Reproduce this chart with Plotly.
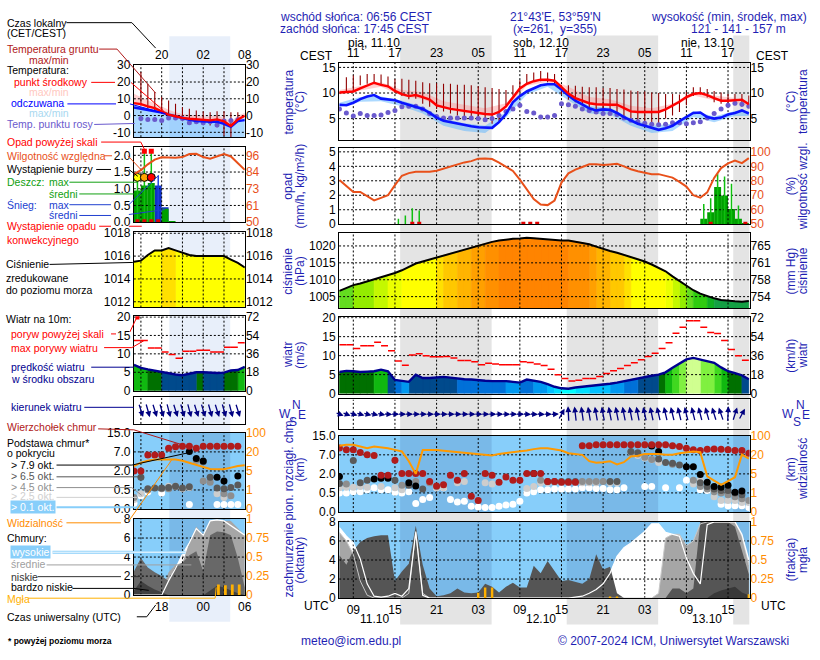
import math
import numpy as np
import plotly.graph_objects as go

W, H = 820, 660
FONT = "Liberation Sans, Arial, Helvetica, sans-serif"
NAVY = "#1f1fb4"
LEG = 10.5   # legend text size

# ======================= DATA : main meteogram =======================
# hours UTC counted from 11.10 00:00
HOURS = list(range(7, 67))
T_MID = [10.1, 10.2, 10.3, 10.9, 11.5, 12.0, 11.6, 11.3, 10.4, 9.8,
         9.4, 9.6, 9.2, 8.7, 7.6, 7.2, 6.9, 6.7, 6.5, 6.2,
         6.1, 5.9, 5.8, 6.3, 7.4, 9.2, 10.9, 11.8, 12.3, 12.6,
         12.6, 12.4, 11.1, 9.9, 9.0, 8.5, 8.0, 7.8, 7.7, 7.7,
         7.7, 7.0, 6.4, 6.3, 6.3, 6.3, 6.3, 6.8, 7.5, 8.3,
         9.2, 9.8, 10.0, 9.6, 9.0, 8.5, 8.5, 8.6, 8.7, 7.8]
T_FEEL = [7.7, 7.6, 8.1, 8.8, 9.3, 9.6, 8.9, 8.8, 8.6, 8.1,
          7.7, 7.3, 6.9, 6.1, 5.2, 4.6, 4.3, 4.0, 3.7, 3.5,
          3.3, 3.2, 3.2, 4.3, 5.9, 8.2, 9.4, 10.3, 10.9, 11.5,
          11.7, 11.7, 10.7, 9.5, 8.5, 7.8, 7.0, 6.6, 6.8, 6.7,
          6.1, 5.3, 4.6, 4.0, 3.6, 3.2, 2.8, 3.1, 3.6, 4.5,
          5.3, 6.1, 6.2, 5.3, 5.0, 5.2, 5.8, 6.1, 6.6, 6.0]
T_DEW = [6.9, 6.1, 5.5, 6.0, 5.6, 5.6, 5.7, 6.2, 6.6, 7.3,
         7.4, 7.4, 6.9, 6.0, 5.4, 5.1, 5.1, 5.1, 5.1, 5.1,
         5.0, 4.8, 5.0, 5.6, 6.4, 6.9, 7.6, 6.4, 6.1, 5.3,
         5.3, 5.6, 7.9, 7.7, 7.4, 6.9, 6.6, 6.3, 6.0, 6.0,
         5.8, 5.1, 4.7, 4.4, 4.1, 3.9, 3.8, 3.9, 4.2, 4.2,
         4.0, 4.2, 4.4, 5.1, 6.0, 6.9, 7.6, 8.0, 7.8, 7.4]
GT_HOURS = list(range(8, 67))
GT_MAX = [13.1, 13.4, 13.4, 13.7, 13.7, 13.6, 13.2, 12.7, 12.8, 12.6,
          12.4, 12.1, 11.9, 11.9, 11.8, 11.8, 11.6, 11.6, 11.5, 11.3,
          11.1, 11.0, 10.8, 10.6, 11.5, 12.5, 13.7, 14.0, 14.3, 14.0,
          13.7, 11.5, 11.5, 11.4, 11.2, 11.1, 11.1, 11.0, 11.0, 10.8,
          10.7, 10.5, 10.4, 10.3, 10.1, 10.0, 9.8, 9.8, 9.7, 10.2,
          11.1, 11.1, 10.8, 10.4, 10.1, 9.8, 9.8, 9.8, 9.5]
GT_MIN = [10.3, 10.3, 11.5, 11.8, 11.8, 11.5, 11.1, 10.0, 9.4, 8.8,
          8.9, 7.9, 7.3, 6.9, 6.4, 6.0, 5.6, 5.3, 5.0, 4.7,
          4.4, 4.0, 4.6, 7.6, 9.5, 11.0, 11.8, 12.3, 12.3, 12.1,
          11.8, 9.7, 8.7, 8.2, 7.6, 6.9, 6.6, 6.3, 6.0, 5.6,
          5.3, 5.0, 4.7, 4.4, 4.0, 3.7, 5.0, 5.6, 6.3, 7.6,
          9.4, 9.7, 9.1, 8.2, 7.9, 7.7, 7.6, 7.3, 7.0]
BAND_HOURS = [7, 10, 13, 16, 19, 22, 25, 28, 31, 34, 37, 40, 43, 46, 49, 52, 55, 58, 61, 64, 66]
T_MID_HI = [10.6, 11.3, 12.1, 10.6, 10.2, 8.4, 7.7, 7.0, 8.0, 12.2, 12.9, 11.2, 9.2, 8.8, 7.5, 7.0, 7.9, 10.3, 9.5, 9.0, 8.2]
T_MID_LO = [9.7, 10.5, 11.2, 9.4, 8.8, 7.0, 6.2, 5.6, 7.0, 11.4, 12.2, 9.5, 7.7, 7.4, 6.1, 6.0, 7.2, 9.5, 8.6, 8.2, 7.4]
T_FEEL_HI = [8.1, 9.2, 9.3, 8.5, 7.3, 5.0, 4.1, 3.6, 6.3, 10.7, 12.1, 9.9, 7.4, 7.1, 5.0, 3.6, 4.0, 6.5, 5.4, 6.5, 6.4]
T_FEEL_LO = [7.2, 8.3, 8.4, 7.4, 6.0, 3.6, 2.6, 2.2, 5.2, 9.7, 11.2, 8.6, 6.0, 5.8, 3.6, 2.2, 2.6, 5.3, 4.3, 5.5, 5.5]

RH = [80.6, 76.5, 72.3, 72.3, 69.5, 66.5, 68.2, 70.0, 77.0, 83.5,
      85.3, 86.2, 86.2, 86.2, 87.0, 88.4, 90.3, 91.6, 92.7, 93.6,
      95.3, 95.4, 95.0, 92.6, 89.6, 86.8, 80.8, 73.8, 67.4, 63.6,
      63.2, 66.4, 78.8, 85.2, 87.7, 89.5, 91.4, 91.4, 91.0, 91.3,
      91.7, 90.0, 88.0, 86.6, 85.5, 84.6, 84.6, 83.6, 82.2, 79.3,
      76.0, 70.0, 68.3, 72.0, 82.0, 88.8, 92.0, 94.0, 92.2, 95.7]
PREC_MEAN_HOURS = [59.5, 60.5, 61.5, 62.5, 63.5, 64.5, 65.5]
PREC_MEAN = [0.38, 0.83, 2.57, 1.99, 1.05, 0.38, 0.05]
PREC_MAX_HOURS = [15.5, 16.5, 17.5, 18.5, 59.5, 60.5, 61.5, 62.5, 63.5, 64.5, 65.5]
PREC_MAX = [0.38, 0.6, 1.1, 0.95, 1.4, 1.8, 3.5, 3.3, 2.8, 1.3, 0.15]
PREC_OCC_HOURS = [17.5, 18.5, 33.5, 34.5, 35.5, 60.5, 65.5]

PRESSURE = [1006.7, 1007.5, 1008.4, 1008.9, 1009.5, 1010.0, 1010.7, 1011.3, 1012.0, 1012.8,
            1013.8, 1014.8, 1015.4, 1016.0, 1016.6, 1017.2, 1017.8, 1018.3, 1018.9, 1019.5,
            1020.2, 1020.7, 1021.2, 1021.6, 1021.9, 1022.1, 1022.2, 1022.4, 1022.3, 1022.1,
            1021.8, 1021.6, 1021.6, 1021.6, 1021.3, 1021.0, 1020.5, 1019.8, 1019.1, 1018.5,
            1018.0, 1017.4, 1016.8, 1016.2, 1015.4, 1014.5, 1013.6, 1012.5, 1011.0, 1009.6,
            1008.2, 1006.9, 1005.9, 1005.1, 1004.5, 1004.0, 1003.7, 1003.6, 1003.5, 1003.7]
WIND = [5.7, 6.0, 5.9, 5.7, 5.8, 5.9, 6.3, 5.9, 3.6, 3.3,
        3.1, 5.0, 4.1, 4.1, 4.2, 4.4, 4.2, 3.9, 3.8, 3.7,
        3.5, 3.4, 3.3, 3.3, 3.3, 3.1, 2.9, 3.7, 3.4, 3.1,
        2.5, 1.8, 1.4, 1.3, 1.6, 1.8, 2.0, 2.1, 2.3, 2.6,
        2.9, 3.3, 3.7, 4.0, 4.3, 4.7, 5.0, 5.6, 6.8, 8.0,
        9.0, 9.4, 8.9, 8.4, 8.1, 6.9, 5.9, 5.4, 4.8, 3.8]
GUST_HOURS = list(range(7, 66))
GUST = [12.9, 12.9, 11.9, 12.6, 12.6, 13.5, 12.6, 11.3, 8.6, 7.5,
        10.2, 10.5, 10.0, 9.7, 9.7, 9.8, 9.4, 8.7, 8.7, 8.4,
        7.6, 8.0, 7.8, 7.6, 7.6, 7.6, 8.4, 8.2, 7.8, 7.4,
        6.4, 5.0, 4.0, 3.3, 3.5, 4.0, 4.0, 4.5, 5.3, 6.0,
        6.6, 7.4, 8.1, 8.9, 9.8, 10.6, 11.9, 13.4, 15.9, 17.5,
        19.2, 19.2, 17.5, 16.1, 15.8, 14.0, 11.6, 10.0, 8.8]
WIND_DIR = [282, 282, 280, 279, 278, 277, 276,
            272, 271, 270, 270, 270, 270, 270, 270, 270, 270, 270, 270, 270,
            270, 270, 270, 270, 271, 271, 271, 272, 272, 272, 270, 268,
            225,
            175, 168, 165, 163, 162, 161, 160, 160, 160, 160, 160, 158, 158,
            157, 157, 156, 156, 155, 155, 154, 152, 150, 148,
            185, 210, 225, 235]

CB_TOP = [9.9, 9.1, 9.1, 8.0, 7.0, 6.8, 1.9, 1.9, 5.6, 2.1,
          2.1, 2.1, 2.1, 1.4, 1.05, 1.15, 1.9, 1.5, 2.1, 0.41,
          0.3, 2.1, 1.9, 1.35, 1.75, 1.5, 1.5, 2.1, 2.1, 2.1,
          1.4, 1.4, 1.35, 1.35, 1.35, 10.8, 10.8, 11.2, 11.2, 11.2,
          11.2, 11.2, 11.2, 11.2, 11.2, 11.2, 11.2, 11.2, 10.8, 10.5,
          9.8, 9.1, 8.8, 9.4, 9.5, 9.4, 9.1, 8.8, 8.8, 7.7]
CB_BLACK_H = [7, 12, 13, 14, 17, 18, 35, 52, 53, 57, 58, 59, 60, 61, 62, 63, 64, 65]
CB_BLACK = [1.8, 1.6, 1.65, 1.65, 1.3, 1.05, 2.1, 10.7, 8.4, 3.9, 3.9, 1.95, 1.35, 1.0, 0.95, 1.1, 0.55, 0.65]
CB_DKGREY_H = [7, 9, 10, 11, 15, 17, 19, 37, 38, 39, 40, 41, 46, 47, 49, 50, 53, 54, 55, 56, 59, 60, 61, 62, 63, 64, 65]
CB_DKGREY = [1.25, 5.5, 1.3, 1.5, 1.5, 1.1, 0.8, 1.4, 1.4, 1.4, 1.4, 1.4, 1.4, 1.4, 8.4, 7.9, 5.9, 5.0, 4.8, 4.3, 1.3, 1.0, 0.8, 0.7, 0.7, 0.5, 0.45]
CB_GREY_H = [8, 16, 18, 20, 21, 36, 42, 43, 44, 45, 49, 50, 51, 52, 55, 58, 59, 60, 61, 62, 63, 64, 65, 66]
CB_GREY = [1.2, 1.1, 1.4, 1.3, 1.0, 1.5, 1.4, 1.4, 1.4, 1.4, 8.0, 7.4, 6.4, 5.8, 4.5, 1.5, 1.0, 0.8, 0.6, 0.5, 0.45, 0.4, 0.35, 0.3]
CB_LTGREY_H = [7, 8, 9, 10, 11, 13, 15, 16, 21, 22, 24, 25, 28, 29, 34, 35, 36, 37, 38, 39,
               40, 41, 42, 43, 44, 46, 47, 50, 51, 52, 53, 58, 59, 61, 62, 63, 64, 65, 66]
CB_LTGREY = [0.9, 0.95, 0.95, 1.0, 0.95, 1.0, 0.9, 0.75, 0.9, 0.9, 1.3, 1.4, 1.3, 1.2, 0.85, 1.0, 1.3, 1.3, 1.35, 1.35,
             1.35, 1.35, 1.3, 1.3, 1.3, 1.3, 1.3, 6.8, 6.2, 5.7, 5.0, 1.2, 1.5, 0.4, 0.3, 0.3, 0.3, 0.25, 0.25]
CB_WHITE = [0.5, 0.5, 0.6, 0.6, 0.75, 0.9, 0.75, 0.75, 0.55, 0.5,
            0.6, 0.22, 0.33, 0.38, 0.9, 0.9, 0.33, 0.26, 0.28, 0.15,
            0.13, 0.12, 0.12, 0.15, 0.18, 0.2, 0.28, 0.5, 0.6, 0.75,
            0.75, 0.8, 0.8, 0.8, 0.8, 0.9, 0.9, 0.85, 0.85, 0.75,
            0.75, 0.9, None, None, 1.0, 1.0, None, 0.9, None, 0.9,
            1.5, None, 0.75, 0.7, 0.6, 0.2, 0.16, 0.16, 0.16, 0.12]
VIS = [58, 62, 62, 55, 48, 55, 52, 48, 41, 34,
       15, 5, 40, 41, 40, 37, 34, 30, 27, 24,
       21.5, 20, 19.5, 24, 27, 30, 34, 38, 44, 48,
       48, 44, 38, 27, 24, 20, 15, 13.8, 14.2, 15,
       12.5, 14.2, 18.7, 19.3, 24, 24, 24, 20, 20, 27,
       30, 34, 31, 4.5, 3.6, 2.7, 3.5, 4.3, 21, 17]

CL_HIGH = [7.4, 6.5, 5.8, 4.1, 1.5, 0.2, 0.1, 0.2, 0.5, 0.2,
           1.0, 6.9, 0.3, 0, 0, 0, 0, 0, 0, 0,
           0, 0, 0, 0, 0, 0, 0, 0, 0, 0,
           0, 0, 0, 0, 0.1, 0.2, 0.5, 0.9, 1.5, 2.6,
           4.4, 5.3, 5.8, 6.4, 7.0, 7.8, 7.8, 6.9, 6.7, 6.5,
           4.2, 2.6, 1.5, 7.7, 8.0, 8.0, 8.0, 8.0, 6.7, 4.0]
CL_MED = [6.9, 6.0, 4.6, 1.8, 0.3, 0, 0, 0, 0, 0,
          0.5, 7.0, 0.5, 0, 0, 0, 0, 0, 0, 0,
          0, 0, 0, 0, 0, 0, 0, 0, 0, 0,
          0, 0, 0, 0, 0, 0, 0, 0, 0, 0,
          0, 0, 0, 0, 0, 0, 0.5, 6.3, 6.7, 6.7,
          5.5, 6.0, 7.8, 8.0, 8.0, 8.0, 8.0, 8.0, 6.5, 3.5]
CL_LOW = [4.5, 3.5, 5.0, 5.9, 6.3, 6.5, 6.6, 6.6, 1.8, 2.8,
          3.6, 7.6, 3.5, 1.0, 0.2, 0.3, 0.5, 1.0, 0.6, 0.5,
          0.6, 1.5, 1.2, 0.6, 1.2, 1.6, 1.1, 1.1, 3.4, 2.6,
          3.9, 2.8, 1.8, 1.9, 1.7, 1.5, 2.0, 4.6, 3.0, 3.3,
          0.5, 0, 0, 0, 0, 0, 0, 0, 1.0, 1.0,
          0.5, 1.0, 8.0, 8.0, 8.0, 8.0, 8.0, 7.5, 5.0, 2.5]
CL_VLOW = [0, 0, 0, 0, 0, 0, 0, 0, 0, 0,
           0, 0, 0, 0, 0, 0, 0, 0, 0, 0,
           0, 0, 0, 0, 0, 0, 0, 0, 0, 0,
           0, 0, 0, 0, 0, 0, 0, 0, 0, 0,
           0, 0, 0, 0, 0, 0, 0, 0, 0, 0,
           0, 0, 0, 0, 0.5, 0.8, 1.0, 1.2, 0.6, 0.3]
FOG_HOURS = [27, 28, 29, 46, 47, 66]
FOG = [0.07, 0.14, 0.14, 0.02, 0.02, 0.05]

NIGHTS = [(15.75, 28.93), (39.75, 52.93), (63.75, 66.1)]
MAIN_GRID_H = [9, 15, 21, 27, 33, 39, 45, 51, 57, 63]
CEST_LABELS = ['11', '17', '23', '05', '11', '17', '23', '05', '11', '17']
UTC_LABELS = ['09', '15', '21', '03', '09', '15', '21', '03', '09', '15']
DAY_POS = [12, 36, 60]
DAY_LABELS = ['pią, 11.10', 'sob, 12.10', 'nie, 13.10']
DATE_LABELS = ['11.10', '12.10', '13.10']

# ======================= DATA : legend example (mini) =======================
MH = list(range(14, 31))
MINI_T_MID = [7.4, 6.8, 5.5, 4.4, 2.5, 0.6, -0.4, -1.4, -1.9, -2.3, -2.7, -2.9, -2.3, -3.5, -6.2, -2.3, -0.2]
MINI_T_FEEL = [4.8, 4.1, 3.5, 2.9, 1.8, 0.6, -0.5, -1.7, -2.5, -3.3, -3.6, -3.7, -3.7, -5.0, -6.8, -3.3, -2.7]
MINI_T_MID_HI = [13.0, 11.0, 9.0, 7.5, 5.5, 3.5, 2.0, 1.0, 0.5, 0.0, -0.5, -0.5, 0.0, -1.5, -3.5, 0.0, 1.5]
MINI_T_MID_LO = [6.5, 6.0, 4.8, 3.6, 1.6, -0.2, -1.2, -2.2, -2.7, -3.1, -3.5, -3.7, -3.1, -4.5, -7.0, -3.1, -1.0]
MINI_T_FEEL_HI = [6.0, 5.3, 4.7, 4.1, 3.0, 1.8, 0.7, -0.5, -1.3, -2.1, -2.4, -2.5, -2.5, -3.8, -5.6, -2.1, -1.5]
MINI_T_FEEL_LO = [-14, -14, -14, -14, -14, -14, -14, -14, -14, -14, -14, -14, -14, -14, -14, -14, -14]
MINI_DEW_H = list(range(15, 30))
MINI_DEW = [-1.7, -2.3, -2.3, -2.9, -1.4, -1.4, -1.7, -4.3, -3.7, -4.3, -3.7, -5.6, -3.3, -2.9, -2.5]
MINI_GT_H = list(range(15, 30))
MINI_GT_MAX = [26, 19, 14, 11, 9, 7, 5, 4, 3, 2.5, 2, 2.5, 2.5, 2, 2]
MINI_GT_MIN = [6, 4.4, 2.5, 1, 0, -1, -2, -3, -4, -5, -6, -7, -12, -13, -2]
MINI_RH = [83, 85.8, 89.8, 93.0, 94.7, 94.4, 94.4, 94.8, 96.9, 97.0, 94.8, 93.6, 95.0, 96.8, 95.2, 90.6, 86]
MINI_RAIN_H = [14.5, 15.5, 16.5, 18.5, 19.5]
MINI_RAIN = [0.95, 1.1, 1.17, 0.4, 0.03]
MINI_SNOW_H = [17.5, 18.5]
MINI_SNOW = [1.1, 0.45]
MINI_RAIN_MAX_H = [14.5, 15.5, 16.5]
MINI_RAIN_MAX = [1.34, 2.1, 2.1]
MINI_SNOW_MAX_H = [17.5]
MINI_SNOW_MAX = [1.4]
MINI_STORM_H = [14.5, 15.5, 16.5]
MINI_STORM_COL = ['#ffff00', '#ffa500', '#ff0000']
MINI_OVER_H = [15.5, 16.5]
MINI_OCC_H = [14.5, 15.5, 16.5, 17.5]
MINI_P = [1015.5, 1015.6, 1016.1, 1016.5, 1016.5, 1016.7, 1016.5, 1016.3, 1016.1, 1016.0,
          1016.0, 1016.0, 1016.0, 1016.0, 1015.7, 1015.4, 1015.0]
MINI_W = [7.0, 6.2, 5.8, 5.4, 5.1, 4.6, 4.4, 4.2, 4.5, 5.0, 5.0, 4.8, 4.8, 4.9, 5.5, 5.6, 6.5]
MINI_GUST_H = list(range(14, 30))
MINI_GUST = [13.6, 13.6, 11.6, 11.6, 10.5, 9.8, 8.8, 10.7, 10.7, 11.0, 11.0, 10.5, 10.5, 11.8, 11.8, 13.0]
MINI_GUST_OVER_H = [14.5]
MINI_WD_H = list(range(15, 30))
MINI_WD = [330, 332, 330, 333, 335, 330, 332, 334, 330, 331, 333, 330, 332, 335, 330]
MINI_CB_TOP_H = [14, 15, 16, 17, 18, 19, 20, 21, 22, 23, 24, 25, 26, 27, 28, 29]
MINI_CB_TOP = [2.0, 2.0, 6.2, 6.2, 6.2, 8.5, 9.2, 9.4, 9.4, 8.5, 9.4, 9.4, 9.4, 9.4, 9.4, 9.4]
MINI_CB_BLACK_H = [22, 23, 24, 26, 27, 29]
MINI_CB_BLACK = [7.2, 5.3, 4.6, 1.5, 1.2, 1.6]
MINI_CB_DKGREY_H = [15, 16, 17, 18, 19, 20, 21, 22, 24, 25, 26, 27, 28, 29]
MINI_CB_DKGREY = [1.5, 0.6, 0.65, 0.65, 0.7, 0.8, 0.65, 0.75, 4.4, 1.5, 0.65, 0.6, 0.7, 0.9]
MINI_CB_GREY_H = [14, 16, 18, 19, 20, 23, 24, 25, 27, 28]
MINI_CB_GREY = [0.3, 0.5, 0.6, 0.6, 0.75, 4.8, 1.2, 1.1, 0.4, 0.35]
MINI_CB_LTGREY_H = [14, 15, 19, 20, 21, 22, 26, 27]
MINI_CB_LTGREY = [0.25, 0.4, 0.8, 0.8, 0.6, 0.7, 0.4, 0.3]
MINI_CB_WHITE_H = [14, 15, 16, 18, 22, 26, 27, 28, 29]
MINI_CB_WHITE = [0.15, 0.35, 0.45, 0.42, 0.12, 0.12, 0.12, 0.12, 0.12]
MINI_VIS = [8.9, 11.5, 13, 14, 14, 14, 14, 13, 11.5, 9.5, 8, 6.5, 6.3, 6.3, 7.6, 8.9, 9.5]
MINI_CL_HIGH = [0, 0, 0, 0, 0, 1.5, 2.8, 4.3, 5.5, 7.0, 6.3, 7.8, 7.9, 7.8, 7.3, 6.8, 6.3]
MINI_CL_MED = [0, 0, 0, 0, 0.5, 2.4, 3.2, 3.4, 5.5, 7.2, 6.3, 7.8, 7.9, 7.8, 7.8, 7.0, 6.3]
MINI_CL_LOW = [2.5, 3.9, 2.9, 2.4, 2.0, 1.5, 3.0, 3.4, 4.2, 4.6, 2.5, 6.3, 6.7, 6.6, 6.3, 3.9, 0.8]
MINI_CL_VLOW = [0.5, 1.5, 1.0, 0.6, 0.3, 0, 0, 0, 0, 0, 0, 0.5, 1.0, 0.8, 0.5, 0.2, 0]
MINI_FOG_H = [26.2, 27.2, 28.2, 29.2]
MINI_FOG = [0.14, 0.13, 0.14, 0.14]
MINI_NIGHT = (19.1, 27.9)
MINI_GRID_H = [15, 18, 21, 24, 27]
MINI_TOP_TV = [18, 24, 30]
MINI_TOP_TT = ['20', '02', '08']
MINI_BOT_TT = ['18', '00', '06']

for arr in (T_MID, T_FEEL, T_DEW, RH, PRESSURE, WIND, WIND_DIR, CB_TOP, CB_WHITE, VIS,
            CL_HIGH, CL_MED, CL_LOW, CL_VLOW):
    assert len(arr) == len(HOURS), len(arr)
for arr in (MINI_T_MID, MINI_T_FEEL, MINI_RH, MINI_P, MINI_W, MINI_VIS, MINI_CL_HIGH,
            MINI_CL_MED, MINI_CL_LOW, MINI_CL_VLOW):
    assert len(arr) == len(MH), len(arr)

# ======================= helpers =======================
fig = go.Figure()
LAY = {}
MX = [6.95, 66.1]
NX = [13.98, 30.02]
MAIN_X = (342, 756)
MINI_X = (135, 247)


def xid(i): return 'x' if i == 1 else f'x{i}'
def yid(i): return 'y' if i == 1 else f'y{i}'
def xkey(i): return 'xaxis' if i == 1 else f'xaxis{i}'
def ykey(i): return 'yaxis' if i == 1 else f'yaxis{i}'


def panel(i, xpx, ypx, xr, yr, ytv=None, ytt=None, xtv=None, xtt=None, xside='bottom'):
    base = dict(showline=True, linecolor='black', linewidth=1, mirror=True, showgrid=False,
                zeroline=False, ticks='', fixedrange=True,
                tickfont=dict(family=FONT, size=12, color='black'))
    xa = dict(base, domain=[xpx[0] / W, xpx[1] / W], range=xr, anchor=yid(i))
    if xtv is not None:
        xa.update(tickmode='array', tickvals=xtv, ticktext=xtt, side=xside, showticklabels=True)
    else:
        xa.update(showticklabels=False)
    ya = dict(base, domain=[1 - ypx[1] / H, 1 - ypx[0] / H], range=yr, anchor=xid(i))
    if ytv is not None:
        ya.update(tickmode='array', tickvals=ytv, ticktext=ytt)
    else:
        ya.update(showticklabels=False)
    LAY[xkey(i)] = xa
    LAY[ykey(i)] = ya


def right_axis(i, j, yr, tv, tt, color):
    LAY[ykey(j)] = dict(overlaying=yid(i), side='right', anchor=xid(i), range=yr,
                        tickmode='array', tickvals=tv, ticktext=tt, showline=False,
                        showgrid=False, zeroline=False, ticks='', fixedrange=True,
                        tickfont=dict(family=FONT, size=12, color=color))
    fig.add_trace(go.Scatter(x=[None], y=[None], xaxis=xid(i), yaxis=yid(j),
                             hoverinfo='skip', showlegend=False))


def sc(i, x, y, j=None, **kw):
    fig.add_trace(go.Scatter(x=x, y=y, xaxis=xid(i), yaxis=yid(j if j else i),
                             hoverinfo='skip', showlegend=False, **kw))


def bar(i, x, y, j=None, **kw):
    fig.add_trace(go.Bar(x=x, y=y, xaxis=xid(i), yaxis=yid(j if j else i),
                         hoverinfo='skip', showlegend=False, **kw))


def grid(i, xr, yr, vx, hy):
    gx, gy = [], []
    for v in vx:
        gx += [v, v, None]
        gy += [yr[0], yr[1], None]
    for v in hy:
        gx += [xr[0], xr[1], None]
        gy += [v, v, None]
    sc(i, gx, gy, mode='lines', line=dict(color='black', width=1, dash='2px,2px'))


def band(i, xs, hi, lo, color):
    sc(i, list(xs) + list(xs)[::-1], list(hi) + list(lo)[::-1], mode='lines',
       fill='toself', fillcolor=color, line=dict(width=0))


def vsegs(i, xs, y0s, y1s, color, width=1, j=None):
    gx, gy = [], []
    for x, a, b in zip(xs, y0s, y1s):
        gx += [x, x, None]
        gy += [a, b, None]
    sc(i, gx, gy, j=j, mode='lines', line=dict(color=color, width=width))


def hsegs(i, xs, ys, color, width=1.5):
    gx, gy = [], []
    for x, y in zip(xs, ys):
        gx += [x, x + 1, None]
        gy += [y, y, None]
    sc(i, gx, gy, mode='lines', line=dict(color=color, width=width))


def strips(i, xs, ys, base, colfun):
    groups = {}
    for k in range(len(xs) - 1):
        c = colfun((ys[k] + ys[k + 1]) / 2)
        gx, gy = groups.setdefault(c, ([], []))
        gx += [xs[k], xs[k], xs[k + 1], xs[k + 1], xs[k], None]
        gy += [base, ys[k], ys[k + 1], base, base, None]
    for c, (gx, gy) in groups.items():
        sc(i, gx, gy, mode='lines', fill='toself', fillcolor=c, line=dict(color=c, width=0.6))


P_LEVELS = [1004.5, 1005.5, 1007, 1008.5, 1010, 1011.5, 1013, 1016.6, 1017.5, 1018.5, 1019.5, 1020.5, 1021.5]
P_COLORS = ['#14a044', '#10b020', '#30cc10', '#64dc20', '#94ec00', '#c4f800', '#ecff00', '#ffff00',
            '#ffe000', '#ffc800', '#ffb400', '#ffa000', '#ff9000', '#ff8400']
W_LEVELS = [1.5, 2.0, 2.7, 3.3, 4.0, 5.0, 6.0, 7.0, 8.0, 9.0]
W_COLORS = ['#00ffff', '#00e0ff', '#00c0ff', '#0098f0', '#0070d8', '#004a8c', '#007000',
            '#10b810', '#40d820', '#80f040', '#d0ff90']


def pcol(p):
    for lv, c in zip(P_LEVELS, P_COLORS):
        if p < lv:
            return c
    return P_COLORS[-1]


def wcol(v):
    for lv, c in zip(W_LEVELS, W_COLORS):
        if v < lv:
            return c
    return W_COLORS[-1]


CB_KM = [0, 0.5, 2, 7, 15]
VIS_KM = [0, 1, 5, 20, 100]
LEVEL_POS = [0, 1, 2, 3, 4]


def cbpos(v): return float(np.interp(v, CB_KM, LEVEL_POS))
def vispos(v): return float(np.interp(v, VIS_KM, LEVEL_POS))


def dots(i, hs, vs, color, size=7):
    pts = [(h, cbpos(v)) for h, v in zip(hs, vs) if v is not None]
    sc(i, [p[0] for p in pts], [p[1] for p in pts], mode='markers',
       marker=dict(color=color, size=size, line=dict(width=0)))


def arrows(i, hs, dirs, mid, pxh, color):
    ax_half, ay_half = 4.35, 8.0
    for h, d in zip(hs, dirs):
        phi = math.radians(d + 180)
        dx = 2 * ax_half * math.sin(phi)
        dy = -2 * ay_half * math.cos(phi)
        fig.add_annotation(x=h + dx / 2 / pxh, y=mid - dy / 2, xref=xid(i), yref=yid(i),
                           ax=-dx, ay=-dy, axref='pixel', ayref='pixel', text='',
                           showarrow=True, arrowhead=2, arrowsize=0.9, arrowwidth=1.3,
                           arrowcolor=color)


def txt(x, y, s, color='black', size=12, xanchor='left', **kw):
    fig.add_annotation(x=x / W, y=1 - y / H, xref='paper', yref='paper', text=s, showarrow=False,
                       xanchor=xanchor, yanchor='middle',
                       font=dict(family=FONT, size=size, color=color), **kw)


def leg(x, y, s, color='black', **kw):
    txt(x, y, s, color, size=LEG, borderpad=0, **kw)


def seg(x0, y0, x1, y1, color, width=1):
    fig.add_shape(type='line', xref='paper', yref='paper', x0=x0 / W, y0=1 - y0 / H,
                  x1=x1 / W, y1=1 - y1 / H, line=dict(color=color, width=width), layer='above')


# ======================= background shading =======================
for a, b in NIGHTS:
    fig.add_shape(type='rect', xref='x', yref='paper', x0=a, x1=b, y0=1 - 631 / H, y1=1 - 29 / H,
                  fillcolor='#e4e4e4', line=dict(width=0), layer='below')
fig.add_shape(type='rect', xref='x8', yref='paper', x0=MINI_NIGHT[0], x1=MINI_NIGHT[1],
              y0=1 - 628 / H, y1=1 - 30 / H, fillcolor='#e8effa', line=dict(width=0), layer='below')

SKY_DAY = '#87cefa'
SKY_NIGHT = '#79b9e8'
for i, yr, nights, xr in ((6, [-0.005, 4.005], NIGHTS, MX), (7, [-0.01, 8.01], NIGHTS, MX),
                          (13, [-0.005, 4.005], [MINI_NIGHT], NX), (14, [-0.01, 8.01], [MINI_NIGHT], NX)):
    fig.add_shape(type='rect', xref=xid(i), yref=yid(i), x0=xr[0], x1=xr[1], y0=yr[0], y1=yr[1],
                  fillcolor=SKY_DAY, line=dict(width=0), layer='below')
    for a, b in nights:
        fig.add_shape(type='rect', xref=xid(i), yref=yid(i), x0=a, x1=b, y0=yr[0], y1=yr[1],
                      fillcolor=SKY_NIGHT, line=dict(width=0), layer='below')

# ======================= MAIN PANELS =======================
YR1 = [0.8, 15.9]
panel(1, MAIN_X, (57, 136), MX, YR1, [5, 10, 15], ['5', '10', '15'], MAIN_GRID_H, CEST_LABELS, 'top')
right_axis(1, 21, YR1, [5, 10, 15], ['5', '10', '15'], 'black')
band(1, BAND_HOURS, T_MID_HI, T_MID_LO, 'rgba(255,150,150,0.45)')
band(1, BAND_HOURS, T_FEEL_HI, T_FEEL_LO, 'rgba(90,180,255,0.5)')
grid(1, MX, YR1, MAIN_GRID_H, [5, 10, 15])
vsegs(1, GT_HOURS, GT_MIN, GT_MAX, '#900000', 1.1)
sc(1, HOURS, T_DEW, mode='markers', marker=dict(color='#6a5acd', size=5))
sc(1, HOURS, T_FEEL, mode='lines', line=dict(color='#0a14ff', width=2.6))
sc(1, HOURS, T_MID, mode='lines', line=dict(color='#ff0000', width=2.4))

YR2 = [-0.005, 5.27]
YR2R = [49.95, 102.7]
panel(2, MAIN_X, (144, 222), MX, YR2, [0, 1, 2, 3, 4, 5], ['0', '1', '2', '3', '4', '5'])
right_axis(2, 22, YR2R, [50, 60, 70, 80, 90, 100], ['50', '60', '70', '80', '90', '100'], '#e8501a')
grid(2, MX, YR2, MAIN_GRID_H, [1, 2, 3, 4, 5])
bar(2, PREC_MEAN_HOURS, PREC_MEAN, width=1.0, marker=dict(color='#00a000', line=dict(width=0)))
vsegs(2, PREC_MAX_HOURS, [0] * len(PREC_MAX_HOURS), PREC_MAX, '#10c010', 1.5)
sc(2, PREC_OCC_HOURS, [0.03] * len(PREC_OCC_HOURS), mode='markers',
   marker=dict(symbol='square', color='#e00000', size=4))
sc(2, HOURS, RH, j=22, mode='lines', line=dict(color='#e8501a', width=2))

YR3 = [1001.5, 1023.8]
panel(3, MAIN_X, (231, 308), MX, YR3, [1005, 1010, 1015, 1020], ['1005', '1010', '1015', '1020'])
right_axis(3, 23, YR3, [1005, 1010, 1015, 1020], ['754', '758', '761', '765'], 'black')
strips(3, HOURS, PRESSURE, YR3[0], pcol)
grid(3, MX, YR3, MAIN_GRID_H, [1005, 1010, 1015, 1020])
sc(3, HOURS, PRESSURE, mode='lines', line=dict(color='black', width=2))

YR4 = [0, 20.1]
panel(4, MAIN_X, (317, 395), MX, YR4, [0, 5, 10, 15, 20], ['0', '5', '10', '15', '20'])
right_axis(4, 24, [0, 72.36], [0, 18, 36, 54, 72], ['0', '18', '36', '54', '72'], 'black')
strips(4, HOURS, WIND, 0, wcol)
grid(4, MX, YR4, MAIN_GRID_H, [5, 10, 15, 20])
hsegs(4, GUST_HOURS, GUST, '#ff0000', 1.5)
sc(4, HOURS, WIND, mode='lines', line=dict(color='#000090', width=2.4))

panel(5, MAIN_X, (401, 431), MX, [0, 30])
grid(5, MX, [0, 30], MAIN_GRID_H, [])
arrows(5, HOURS, WIND_DIR, 15, 414 / (MX[1] - MX[0]), '#000080')

YR6 = [-0.005, 4.005]
panel(6, MAIN_X, (438, 516), MX, YR6, [0, 1, 2, 3, 4], ['0.0', '0.5', '2.0', '7.0', '15.0'])
right_axis(6, 26, YR6, [0, 1, 2, 3, 4], ['0', '1', '5', '20', '100'], '#ff8c00')
grid(6, MX, YR6, MAIN_GRID_H, [1, 2, 3])
dots(6, HOURS, CB_WHITE, '#ffffff')
dots(6, CB_LTGREY_H, CB_LTGREY, '#cdcdcd')
dots(6, CB_GREY_H, CB_GREY, '#8e8e8e')
dots(6, CB_DKGREY_H, CB_DKGREY, '#5a5a5a')
dots(6, CB_BLACK_H, CB_BLACK, '#000000')
dots(6, HOURS, CB_TOP, '#b01c1c')
sc(6, HOURS, [vispos(v) for v in VIS], mode='lines', line=dict(color='#ff9900', width=2))

YR7 = [-0.01, 8.01]
panel(7, MAIN_X, (526, 604), MX, YR7, [0, 2, 4, 6, 8], ['0', '2', '4', '6', '8'], MAIN_GRID_H, UTC_LABELS, 'bottom')
right_axis(7, 27, [-0.00125, 1.00125], [0, 0.25, 0.5, 0.75, 1], ['0', '0.25', '0.5', '0.75', '1'], '#ff8c00')
sc(7, HOURS, CL_HIGH, mode='lines', fill='tozeroy', fillcolor='#ffffff', line=dict(width=0))
sc(7, HOURS, CL_MED, mode='lines', fill='tozeroy', fillcolor='#a6a6a6', line=dict(width=0))
sc(7, HOURS, CL_LOW, mode='lines', fill='tozeroy', fillcolor='#555555', line=dict(width=0))
sc(7, HOURS, CL_VLOW, mode='lines', fill='tozeroy', fillcolor='#383838', line=dict(width=0))
grid(7, MX, YR7, MAIN_GRID_H, [2, 4, 6])
sc(7, HOURS, CL_MED, mode='lines', line=dict(color='#c8c8c8', width=1))
sc(7, HOURS, CL_HIGH, mode='lines', line=dict(color='#ffffff', width=1.2))
bar(7, FOG_HOURS, FOG, j=27, width=0.35, marker=dict(color='#ffb000', line=dict(width=0)))

# ======================= MINI (legend) PANELS =======================
YR8 = [-12.9, 30.3]
panel(8, MINI_X, (59, 133), NX, YR8, [-10, 0, 10, 20, 30], ['-10', '0', '10', '20', '30'],
      MINI_TOP_TV, MINI_TOP_TT, 'top')
right_axis(8, 28, YR8, [-10, 0, 10, 20, 30], ['-10', '0', '10', '20', '30'], 'black')
band(8, MH, MINI_T_MID_HI, MINI_T_MID_LO, 'rgba(255,150,150,0.45)')
band(8, MH, MINI_T_FEEL_HI, MINI_T_FEEL_LO, 'rgba(90,180,255,0.5)')
grid(8, NX, YR8, MINI_GRID_H, [-10, 0, 10, 20])
vsegs(8, MINI_GT_H, MINI_GT_MIN, MINI_GT_MAX, '#900000', 1.1)
sc(8, MINI_DEW_H, MINI_DEW, mode='markers', marker=dict(color='#6a5acd', size=5))
sc(8, MH, MINI_T_FEEL, mode='lines', line=dict(color='#0a14ff', width=2.4))
sc(8, MH, MINI_T_MID, mode='lines', line=dict(color='#ff0000', width=2.4))

YR9 = [-0.005, 2.25]
panel(9, MINI_X, (143, 220), NX, YR9, [0, 0.5, 1, 1.5, 2], ['0.0', '0.5', '1.0', '1.5', '2.0'])
right_axis(9, 29, [49.885, 101.75], [50, 61.5, 73, 84.5, 96], ['50', '61', '73', '84', '96'], '#e8501a')
grid(9, NX, YR9, MINI_GRID_H, [0.5, 1, 1.5, 2])
bar(9, MINI_SNOW_H, MINI_SNOW, width=1.0, marker=dict(color='#1030c8', line=dict(width=0)))
bar(9, MINI_RAIN_H, MINI_RAIN, width=1.0, marker=dict(color='#00a000', line=dict(width=0)))
vsegs(9, MINI_RAIN_MAX_H, [0] * 3, MINI_RAIN_MAX, '#10c010', 1.5)
vsegs(9, MINI_SNOW_MAX_H, [0], MINI_SNOW_MAX, '#2040e0', 1.5)
sc(9, MINI_OVER_H, [2.12] * len(MINI_OVER_H), mode='markers',
   marker=dict(symbol='square', color='#ff0000', size=5))
sc(9, MINI_OCC_H, [0.03] * len(MINI_OCC_H), mode='markers',
   marker=dict(symbol='square', color='#e00000', size=4))
sc(9, MH, MINI_RH, j=29, mode='lines', line=dict(color='#e8501a', width=2))
sc(9, MINI_STORM_H, [1.34] * 3, mode='markers',
   marker=dict(color=MINI_STORM_COL, size=8, line=dict(color='black', width=1)))

YR10 = [1011.5, 1018.1]
panel(10, MINI_X, (230, 307), NX, YR10, [1012, 1014, 1016, 1018], ['1012', '1014', '1016', '1018'])
right_axis(10, 30, YR10, [1012, 1014, 1016, 1018], ['1012', '1014', '1016', '1018'], 'black')
strips(10, MH, MINI_P, YR10[0], pcol)
grid(10, NX, YR10, MINI_GRID_H, [1012, 1014, 1016, 1018])
sc(10, MH, MINI_P, mode='lines', line=dict(color='black', width=2))

YR11 = [0, 20.2]
panel(11, MINI_X, (316, 392), NX, YR11, [0, 5, 10, 15, 20], ['0', '5', '10', '15', '20'])
right_axis(11, 31, [0, 72.72], [0, 18, 36, 54, 72], ['0', '18', '36', '54', '72'], 'black')
strips(11, MH, MINI_W, 0, wcol)
grid(11, NX, YR11, MINI_GRID_H, [5, 10, 15, 20])
hsegs(11, MINI_GUST_H, MINI_GUST, '#ff0000', 1.5)
sc(11, MINI_GUST_OVER_H, [19.9], mode='markers', marker=dict(color='#ff0000', size=4, symbol='square'))
sc(11, MH, MINI_W, mode='lines', line=dict(color='#000090', width=2.4))

panel(12, MINI_X, (398, 426), NX, [0, 28])
grid(12, NX, [0, 28], MINI_GRID_H, [])
arrows(12, MINI_WD_H, MINI_WD, 14, 112 / (NX[1] - NX[0]), '#000080')

panel(13, MINI_X, (435, 513), NX, YR6, [0, 1, 2, 3, 4], ['0.0', '0.5', '2.0', '7.0', '15.0'])
right_axis(13, 33, YR6, [0, 1, 2, 3, 4], ['0', '1', '5', '20', '100'], '#ff8c00')
grid(13, NX, YR6, MINI_GRID_H, [1, 2, 3])
dots(13, MINI_CB_WHITE_H, MINI_CB_WHITE, '#ffffff')
dots(13, MINI_CB_LTGREY_H, MINI_CB_LTGREY, '#cdcdcd')
dots(13, MINI_CB_GREY_H, MINI_CB_GREY, '#8e8e8e')
dots(13, MINI_CB_DKGREY_H, MINI_CB_DKGREY, '#5a5a5a')
dots(13, MINI_CB_BLACK_H, MINI_CB_BLACK, '#000000')
dots(13, MINI_CB_TOP_H, MINI_CB_TOP, '#b01c1c')
sc(13, MH, [vispos(v) for v in MINI_VIS], mode='lines', line=dict(color='#ff9900', width=2))

panel(14, MINI_X, (523, 601), NX, YR7, [0, 2, 4, 6, 8], ['0', '2', '4', '6', '8'],
      MINI_TOP_TV, MINI_BOT_TT, 'bottom')
right_axis(14, 34, [-0.00125, 1.00125], [0, 0.25, 0.5, 0.75, 1], ['0', '0.25', '0.5', '0.75', '1'], '#ff8c00')
sc(14, MH, MINI_CL_HIGH, mode='lines', fill='tozeroy', fillcolor='#ffffff', line=dict(width=0))
sc(14, MH, MINI_CL_MED, mode='lines', fill='tozeroy', fillcolor='#a6a6a6', line=dict(width=0))
sc(14, MH, MINI_CL_LOW, mode='lines', fill='tozeroy', fillcolor='#686868', line=dict(width=0))
sc(14, MH, MINI_CL_VLOW, mode='lines', fill='tozeroy', fillcolor='#404040', line=dict(width=0))
grid(14, NX, YR7, MINI_GRID_H, [2, 4, 6])
sc(14, MH, MINI_CL_HIGH, mode='lines', line=dict(color='#ffffff', width=1.2))
bar(14, MINI_FOG_H, MINI_FOG, j=34, width=0.4, marker=dict(color='#ffb000', line=dict(width=0)))

# ======================= TEXTS =======================
txt(280, 10, 'wschód słońca: 06:56 CEST', NAVY)
txt(280, 22, 'zachód słońca: 17:45 CEST', NAVY)
txt(560, 10, "21°43'E, 53°59'N", NAVY, xanchor='center')
txt(560, 22, '(x=261,  y=355)', NAVY, xanchor='center')
txt(816, 10, 'wysokość (min, środek, max)', NAVY, xanchor='right')
txt(745, 22, '121 - 141 - 157 m', NAVY, xanchor='center')
for pos, lab in zip(DAY_POS, DAY_LABELS):
    fig.add_annotation(x=pos, y=1 - 37 / H, xref='x', yref='paper', text=lab, showarrow=False,
                       xanchor='center', yanchor='middle', font=dict(family=FONT, size=12, color='black'))
for pos, lab in zip(DAY_POS, DATE_LABELS):
    fig.add_annotation(x=pos, y=1 - 625 / H, xref='x', yref='paper', text=lab, showarrow=False,
                       xanchor='center', yanchor='middle', font=dict(family=FONT, size=12, color='black'))
txt(319, 50, 'CEST', xanchor='center')
txt(779, 50, 'CEST', xanchor='center')
txt(319, 612, 'UTC', xanchor='center')
txt(780, 612, 'UTC', xanchor='center')
txt(354, 648, 'meteo@icm.edu.pl', NAVY, xanchor='center')
txt(679, 648, '© 2007-2024 ICM, Uniwersytet Warszawski', NAVY, xanchor='center')

TITLES = [
    (97, 'temperatura', '(°C)', '(°C)', 'temperatura'),
    (183, 'opad', '(mm/h, kg/m²/h)', '(%)', 'wilgotność wzgl.'),
    (270, 'ciśnienie', '(hPa)', '(mm Hg)', 'ciśnienie'),
    (356, 'wiatr', '(m/s)', '(km/h)', 'wiatr'),
    (472, 'pion. rozciągł. chm.', '(km)', '(km)', 'widzialność'),
    (565, 'zachmurzenie', '(oktanty)', '(frakcja)', 'mgła'),
]
for yc, l1, l2, r1, r2 in TITLES:
    for xx, s in ((291, l1), (303, l2), (798, r1), (810, r2)):
        txt(xx, yc, s, NAVY, xanchor='center', textangle=-90)
for cx in (296, 804):
    txt(cx - 9, 416, 'W', NAVY, xanchor='center')
    txt(cx + 3, 407, 'N', NAVY, xanchor='center')
    txt(cx + 9, 417, 'E', NAVY, xanchor='center')
    txt(cx, 424, 'S', NAVY, xanchor='center')

DR = '#b01818'
leg(6, 16, 'Czas lokalny')
leg(6, 27, '(CET/CEST)')
leg(6, 43, 'Temperatura gruntu', DR)
leg(28, 54, 'max/min', DR)
leg(6, 64, 'Temperatura:')
leg(13, 77, 'punkt środkowy', '#ff0000')
leg(28, 87, 'max/min', '#ffc8c0')
leg(10, 98, 'odczuwana', '#0000ff')
leg(28, 108, 'max/min', '#a8d8f0')
leg(6, 120, 'Temp. punktu rosy', '#6a5acd')
leg(6, 138, 'Opad powyżej skali', '#ff0000')
leg(6, 152, 'Wilgotność względna', '#e8501a')
leg(6, 166, 'Wystąpienie burzy')
leg(6, 179, 'Deszcz:', '#10a010')
leg(48, 179, 'max', '#10a010')
leg(48, 191, 'średni', '#10a010')
leg(6, 202, 'Śnieg:', '#2040d0')
leg(48, 202, 'max', '#2040d0')
leg(48, 213, 'średni', '#2040d0')
leg(6, 224, 'Wystąpienie opadu', '#ff0000')
leg(6, 238, 'konwekcyjnego', '#ff0000')
leg(5, 263, 'Ciśnienie')
leg(5, 277, 'zredukowane')
leg(5, 289, 'do poziomu morza')
leg(5, 319, 'Wiatr na 10m:')
leg(10, 334, 'poryw powyżej skali', '#ff0000')
leg(10, 348, 'max porywy wiatru', '#ff0000')
leg(10, 368, 'prędkość wiatru', '#000090')
leg(10, 380, 'w środku obszaru', '#000090')
leg(10, 409, 'kierunek wiatru', '#000090')
leg(6, 429, 'Wierzchołek chmur', DR)
leg(6, 445, 'Podstawa chmur*')
leg(6, 456, 'o pokryciu')
leg(10, 468, '> 7.9 okt.')
leg(10, 479, '> 6.5 okt.', '#555555')
leg(10, 490, '> 4.5 okt.', '#909090')
leg(10, 500, '> 2.5 okt.', '#d0d0d0')
leg(10, 511, '> 0.1 okt.', '#ffffff', bgcolor=SKY_DAY)
leg(6, 527, 'Widzialność', '#ff8c00')
leg(6, 543, 'Chmury:')
leg(10, 557, 'wysokie', '#ffffff', bgcolor=SKY_DAY)
leg(10, 569, 'średnie', '#a0a0a0')
leg(10, 582, 'niskie', '#333333')
leg(10, 593, 'bardzo niskie')
leg(6, 605, 'Mgła', '#ffb000')
leg(6, 623, 'Czas uniwersalny (UTC)')
txt(6, 648, '<b>* powyżej poziomu morza</b>', size=8.5)

seg(67, 16, 133, 16, 'black'); seg(133, 16, 157, 42, 'black')
seg(100, 43, 118, 43, DR); seg(118, 43, 157, 88, DR)
seg(92, 77, 116, 77, '#ff0000'); seg(132, 77, 165, 106, '#ff0000')
seg(68, 99, 117, 99, '#0000ff'); seg(131, 99, 167, 109, '#0000ff')
seg(95, 120, 136, 119, '#6a5acd')
seg(102, 138, 142, 138, '#ff0000'); seg(142, 138, 146, 146, '#ff0000')
seg(105, 152, 113, 152, '#e8501a'); seg(129, 152, 143, 167, '#e8501a')
seg(97, 166, 112, 166, 'black'); seg(130, 166, 139, 173, 'black')
seg(70, 179, 139, 179, '#10a010')
seg(80, 191, 135, 191, '#10a010')
seg(70, 202, 112, 202, '#2040d0'); seg(130, 202, 160, 172, '#2040d0')
seg(80, 213, 112, 213, '#2040d0'); seg(130, 212, 166, 207, '#2040d0')
seg(100, 224, 112, 224, '#ff0000'); seg(130, 224, 143, 224, '#ff0000')
seg(50, 263, 134, 261, 'black')
seg(112, 334, 117, 334, '#ff0000'); seg(131, 332, 138, 317, '#ff0000')
seg(105, 348, 133, 348, '#ff0000'); seg(133, 348, 145, 341, '#ff0000')
seg(92, 368, 135, 368, '#000090')
seg(85, 409, 135, 409, '#000090')
seg(99, 431, 135, 432, DR); seg(135, 432, 183, 447, DR)
seg(57, 468, 133, 468, 'black'); seg(133, 468, 192, 455, 'black')
seg(57, 480, 143, 480, '#555555')
seg(57, 491, 133, 491, '#909090'); seg(133, 491, 143, 499, '#909090')
seg(57, 501, 138, 501, '#d0d0d0')
seg(57, 511, 135, 511, SKY_DAY, 2)
seg(67, 527, 122, 527, '#ff8c00'); seg(130, 525, 173, 463, '#ff8c00')
seg(53, 557, 187, 557, SKY_DAY, 3); seg(53, 557, 187, 557, '#ffffff', 1)
seg(47, 570, 193, 570, '#a0a0a0')
seg(38, 582, 122, 582, '#333333'); seg(132, 582, 140, 582, '#333333')
seg(73, 594, 135, 594, 'black'); seg(135, 594, 150, 596, 'black')
seg(28, 604, 217, 604, '#ffb000'); seg(217, 604, 218, 593, '#ffb000')
seg(138, 623, 148, 623, 'black'); seg(148, 623, 157, 611, 'black')

LAY.update(width=W, height=H, margin=dict(l=0, r=0, t=0, b=0), paper_bgcolor='white',
           plot_bgcolor='rgba(0,0,0,0)', showlegend=False, barmode='overlay',
           font=dict(family=FONT, size=12, color='black'))
fig.update_layout(**LAY)
fig.write_html('out.html', config={'displayModeBar': False},
               post_script="document.body.style.margin='0';document.body.style.padding='0';"
                           "document.body.style.overflow='hidden';")
